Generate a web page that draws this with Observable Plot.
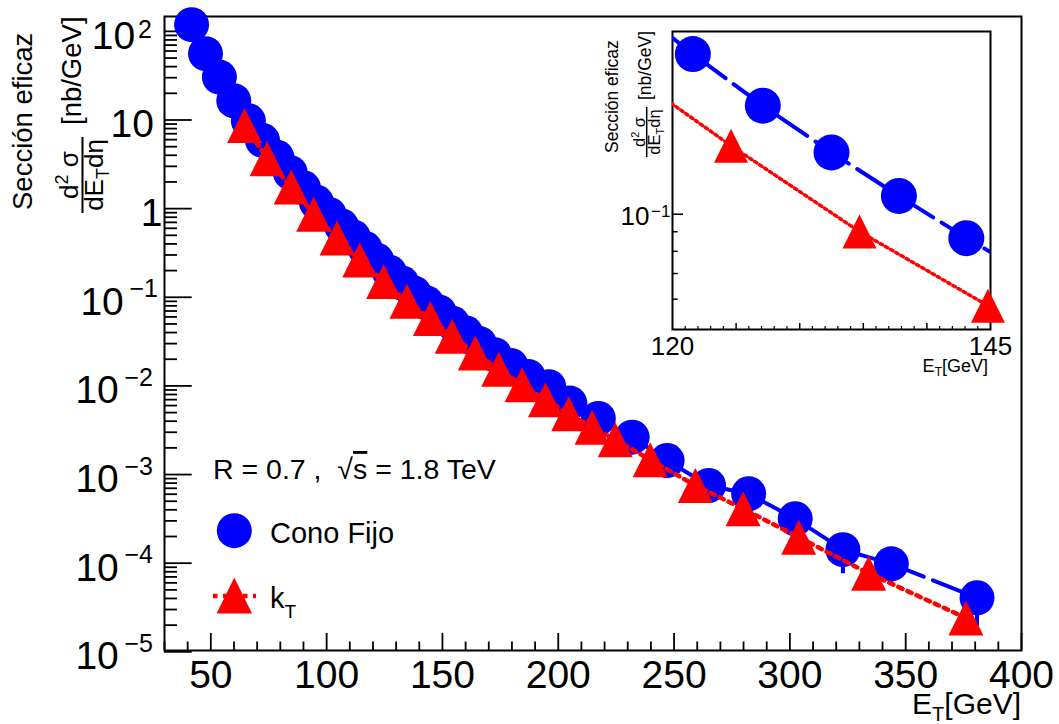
<!DOCTYPE html>
<html lang="es">
<head>
<meta charset="utf-8">
<title>Sección eficaz de jets: Cono Fijo y k_T</title>
<script src="https://cdn.jsdelivr.net/npm/d3@7"></script>
<script src="https://cdn.jsdelivr.net/npm/@observablehq/plot@0.6"></script>
<style>
  html, body { margin: 0; padding: 0; background: #fff; }
  #figure { position: relative; width: 1059px; height: 724px; overflow: hidden; }
  #inset { position: absolute; left: 590px; top: 20px; }
  svg { display: block; }
</style>
</head>
<body>
<div id="figure"><div id="main"></div><div id="inset"></div></div>
<script>
const FONT = '"Liberation Sans", Arial, Helvetica, sans-serif';
const BLUE = "#0000ff", RED = "#ff0000";

// Fixed-cone ("Cono Fijo") jets: E_T [GeV] and d2sigma/dE_T deta [nb/GeV]
const etCono = [41.7, 47.7, 53.7, 59.9, 66.2, 72.3, 78.5, 84.3, 90.0, 95.6,
  101.1, 106.4, 111.5, 116.6, 121.6, 127.1, 132.5, 137.8, 143.1, 148.6,
  154.3, 160.1, 166.0, 172.5, 179.5, 187.0, 195.9, 205.0, 217.3, 231.9,
  247.0, 264.9, 282.2, 302.3, 322.9, 343.8, 380.8];
const sigmaCono = [119, 56, 30.5, 16.5, 9.8, 5.9, 3.8, 2.55, 1.72, 1.18,
  0.86, 0.64, 0.48, 0.355, 0.262, 0.192, 0.145, 0.1116, 0.0866, 0.068,
  0.051, 0.0395, 0.030, 0.0225, 0.0170, 0.0128, 0.0098, 0.0064, 4.3e-3, 2.64e-3,
  1.44e-3, 7.53e-4, 6.07e-4, 3.17e-4, 1.42e-4, 9.84e-5, 4.07e-5];

// Error bars of the fixed-cone points that stick out of their markers
const errEt = [322.9, 343.8, 380.8];
const errLo = [7.6e-5, 5.6e-5, 1.9e-5];
const errHi = [2.08e-4, 1.4e-4, 6.2e-5];

// k_T jets
const etKt = [64.6, 74.3, 84.7, 94.4, 104.5, 114.3, 124.6, 134.7, 144.8, 154.2,
  164.2, 174.3, 184.4, 194.5, 204.5, 214.6, 224.6, 239.7, 259.2, 279.8,
  303.8, 334.0, 376.0];
const sigmaKt = [8.67, 3.65, 1.75, 0.863, 0.467, 0.264, 0.151, 0.0901, 0.0577, 0.0363,
  0.0235, 0.0154, 0.0103, 0.0070, 0.00484, 0.00342, 0.00247, 0.00147, 7.53e-4, 4.11e-4,
  1.96e-4, 7.69e-5, 2.41e-5];

// Axis ticks
const yMajor = [1e-5, 1e-4, 1e-3, 1e-2, 1e-1, 1, 10, 100];
const yMinor = yMajor.slice(0, -1).flatMap(d => d3.range(2, 10).map(k => d * k));
const yNeg = [1e-2, 1e-3, 1e-4, 1e-5];
const xMajor = d3.range(50, 401, 50);
const xMinor = d3.range(30, 401, 10).filter(v => v % 50 !== 0);

const inXLabels = [120, 145];
const inXMajor = [125, 130, 135, 140];
const inXMinor = d3.range(121, 145).filter(v => v % 5 !== 0);
const inYMajor = [0.1];
const inYMinor = [0.06, 0.07, 0.08, 0.09];

const cono = etCono.map((et, i) => ({et, s: sigmaCono[i]}));
const kt = etKt.map((et, i) => ({et, s: sigmaKt[i]}));
const errs = errEt.map((et, i) => ({et, lo: errLo[i], hi: errHi[i]}));

// Upward triangle centred on its bounding box
const triangleUp = {
  draw(context, size) {
    const h = Math.sqrt(size / Math.PI);
    context.moveTo(0, -h);
    context.lineTo(h, h);
    context.lineTo(-h, h);
    context.closePath();
  }
};

const expo = d => Math.round(Math.log10(d));
const supText = d => (expo(d) < 0 ? "\u2212" : "") + Math.abs(expo(d));
const ten = () => "10";

// ---------- main panel ----------
const W = 1059, H = 724, ML = 164, MR = 38, MT = 16, MB = 74;
const FW = W - ML - MR, FH = H - MT - MB;
const lab = {frameAnchor: "left", textAnchor: "end", lineAnchor: "bottom", fontSize: 39};

const main = Plot.plot({
  width: W, height: H,
  marginLeft: ML, marginRight: MR, marginTop: MT, marginBottom: MB,
  style: {fontFamily: FONT, background: "transparent", overflow: "visible"},
  x: {domain: [30, 400], axis: null},
  y: {type: "log", domain: [1.035e-5, 147.1], axis: null},
  marks: [
    Plot.tickY(yMinor, {y: d => d, insetRight: FW - 13, strokeWidth: 1.8}),
    Plot.tickY(yMajor, {y: d => d, insetRight: FW - 27.7, strokeWidth: 1.8}),
    Plot.tickX(xMinor, {x: d => d, insetTop: FH - 8.5, strokeWidth: 1.8}),
    Plot.tickX(xMajor, {x: d => d, insetTop: FH - 17, strokeWidth: 1.8}),
    Plot.frame({stroke: "black", strokeWidth: 2}),
    Plot.text(xMajor, {x: d => d, text: d => String(d), frameAnchor: "bottom", lineAnchor: "bottom", dy: 37, fontSize: 39}),
    Plot.text([1], {...lab, y: d => d, text: () => "1", dx: -2, dy: 17.5}),
    Plot.text([10], {...lab, y: d => d, text: ten, dx: -10.5, dy: 17.5}),
    Plot.text([100], {...lab, y: d => d, text: ten, dx: -29.4, dy: 17.5}),
    Plot.text([100], {...lab, y: d => d, text: supText, dx: -12.6, dy: 6.8, fontSize: 25}),
    Plot.text([1e-1], {...lab, y: d => d, text: ten, dx: -40.7, dy: 17.5}),
    Plot.text([1e-1], {...lab, y: d => d, text: supText, dx: -6.6, dy: 0, fontSize: 25}),
    Plot.text(yNeg, {...lab, y: d => d, text: ten, dx: -45.7, dy: 17.5}),
    Plot.text(yNeg, {...lab, y: d => d, text: supText, dx: -11.6, dy: 0, fontSize: 25}),
    Plot.line(cono, {x: "et", y: "s", stroke: BLUE, strokeWidth: 4, strokeDasharray: "40,10"}),
    Plot.dot(cono, {x: "et", y: "s", r: 17.5, fill: BLUE}),
    Plot.ruleX(errs, {x: "et", y1: "lo", y2: "hi", stroke: BLUE, strokeWidth: 4}),
    Plot.line(kt, {x: "et", y: "s", stroke: RED, strokeWidth: 4.5, strokeDasharray: "4.5,5.5"}),
    Plot.dot(kt, {x: "et", y: "s", r: 17.5, symbol: triangleUp, fill: RED})
  ]
});
document.getElementById("main").appendChild(main);

// ---------- inset: zoom on 120-145 GeV ----------
const IW = 420, IH = 370, IML = 82, IMR = 20, IMT = 11, IMB = 61;
const IFW = IW - IML - IMR, IFH = IH - IMT - IMB;
const inRange = d => d.et >= 120 && d.et <= 145;

const inset = Plot.plot({
  width: IW, height: IH,
  marginLeft: IML, marginRight: IMR, marginTop: IMT, marginBottom: IMB,
  style: {fontFamily: FONT, background: "transparent", overflow: "visible"},
  x: {domain: [120, 145], axis: null},
  y: {type: "log", domain: [0.05, 0.3], axis: null},
  marks: [
    Plot.tickY(inYMinor, {y: d => d, insetRight: IFW - 5.7, strokeWidth: 1.5}),
    Plot.tickY(inYMajor, {y: d => d, insetRight: IFW - 11, strokeWidth: 1.5}),
    Plot.tickX(inXMinor, {x: d => d, insetTop: IFH - 3, strokeWidth: 1.2}),
    Plot.tickX(inXMajor, {x: d => d, insetTop: IFH - 6, strokeWidth: 1.5}),
    Plot.frame({stroke: "black", strokeWidth: 2}),
    Plot.text(inXLabels, {x: d => d, text: d => String(d), frameAnchor: "bottom", lineAnchor: "bottom", dy: 25, fontSize: 26}),
    Plot.text(inYMajor, {y: d => d, text: ten, frameAnchor: "left", textAnchor: "end", lineAnchor: "bottom", dx: -23, dy: 11, fontSize: 26}),
    Plot.text(inYMajor, {y: d => d, text: supText, frameAnchor: "left", textAnchor: "end", lineAnchor: "bottom", dx: -2, dy: 2.7, fontSize: 17}),
    Plot.line(cono, {x: "et", y: "s", stroke: BLUE, strokeWidth: 4, strokeDasharray: "40,10", clip: true}),
    Plot.dot(cono.filter(inRange), {x: "et", y: "s", r: 18, fill: BLUE}),
    Plot.line(kt, {x: "et", y: "s", stroke: RED, strokeWidth: 3.5, strokeDasharray: "2.5,3.5", clip: true}),
    Plot.dot(kt.filter(inRange), {x: "et", y: "s", r: 17, symbol: triangleUp, fill: RED})
  ]
});
document.getElementById("inset").appendChild(inset);

// ---------- axis titles ----------
function yTitle(svg, o) {
  const g = svg.append("g").attr("font-family", FONT).attr("fill", "black").attr("text-anchor", "start");
  g.append("text")
    .attr("transform", `translate(${o.xName},${o.yName}) rotate(-90)`)
    .attr("font-size", o.fs).text("Sección eficaz");
  const num = g.append("text")
    .attr("transform", `translate(${o.xNum},${o.yMid}) rotate(-90)`)
    .attr("text-anchor", "middle").attr("font-size", o.ffs);
  num.append("tspan").text("d");
  num.append("tspan").attr("font-size", o.sfs).attr("dy", -o.sup).text("2");
  num.append("tspan").attr("dy", o.sup).text("\u00a0\u03c3");
  g.append("line")
    .attr("x1", o.xBar).attr("x2", o.xBar)
    .attr("y1", o.yMid - o.half).attr("y2", o.yMid + o.half)
    .attr("stroke", "black").attr("stroke-width", o.bw);
  const den = g.append("text")
    .attr("transform", `translate(${o.xDen},${o.yMid}) rotate(-90)`)
    .attr("text-anchor", "middle").attr("font-size", o.ffs);
  den.append("tspan").text("dE");
  den.append("tspan").attr("font-size", o.sfs).attr("dy", o.sub).text("T");
  den.append("tspan").attr("dy", -o.sub).text("d\u03b7");
  g.append("text")
    .attr("transform", `translate(${o.xUnit},${o.yUnit}) rotate(-90)`)
    .attr("font-size", o.fs).text("[nb/GeV]");
}

function xTitle(svg, x, y, fs, sfs, sub) {
  const t = svg.append("text").attr("x", x).attr("y", y)
    .attr("text-anchor", "end").attr("font-family", FONT).attr("font-size", fs);
  t.append("tspan").text("E");
  t.append("tspan").attr("font-size", sfs).attr("dy", sub).text("T");
  t.append("tspan").attr("dy", -sub).text("[GeV]");
}

const mainSvg = d3.select(main);
yTitle(mainSvg, {xName: 31.5, yName: 210, fs: 27.5, ffs: 26, sfs: 18, sup: 10, sub: 6,
  xNum: 78, xBar: 82.5, xDen: 103, yMid: 175, half: 38, bw: 2, xUnit: 81, yUnit: 125});
xTitle(mainSvg, 1021, 714, 30, 20, 7);

const insetSvg = d3.select(inset);
yTitle(insetSvg, {xName: 27.5, yName: 133, fs: 17.5, ffs: 16.5, sfs: 11, sup: 6, sub: 4,
  xNum: 55, xBar: 56.7, xDen: 70, yMid: 112, half: 25, bw: 1.5, xUnit: 61, yUnit: 80});
xTitle(insetSvg, 398, 352, 18, 12, 4);

// ---------- legend ----------
const leg = mainSvg.append("g").attr("font-family", FONT).attr("fill", "black").attr("text-anchor", "start");
const info = leg.append("text").attr("x", 213).attr("y", 479).attr("font-size", 28.5);
info.append("tspan").text("R = 0.7 ,\u00a0\u00a0\u221a");
info.append("tspan").style("text-decoration", "overline").text("s");
info.append("tspan").text(" = 1.8 TeV");

leg.append("circle").attr("cx", 234.3).attr("cy", 530.7).attr("r", 17.5).attr("fill", BLUE);
leg.append("text").attr("x", 270).attr("y", 543).attr("font-size", 29).text("Cono Fijo");

leg.append("line").attr("x1", 213).attr("x2", 256).attr("y1", 596).attr("y2", 596)
  .attr("stroke", RED).attr("stroke-width", 4.5).attr("stroke-dasharray", "4.5,5.5");
leg.append("path").attr("d", "M234.3,577.5L252,613.5L216.6,613.5Z").attr("fill", RED);
const kLab = leg.append("text").attr("x", 270).attr("y", 608).attr("font-size", 29);
kLab.append("tspan").text("k");
kLab.append("tspan").attr("font-size", 19).attr("dy", 10).text("T");
</script>
</body>
</html>
